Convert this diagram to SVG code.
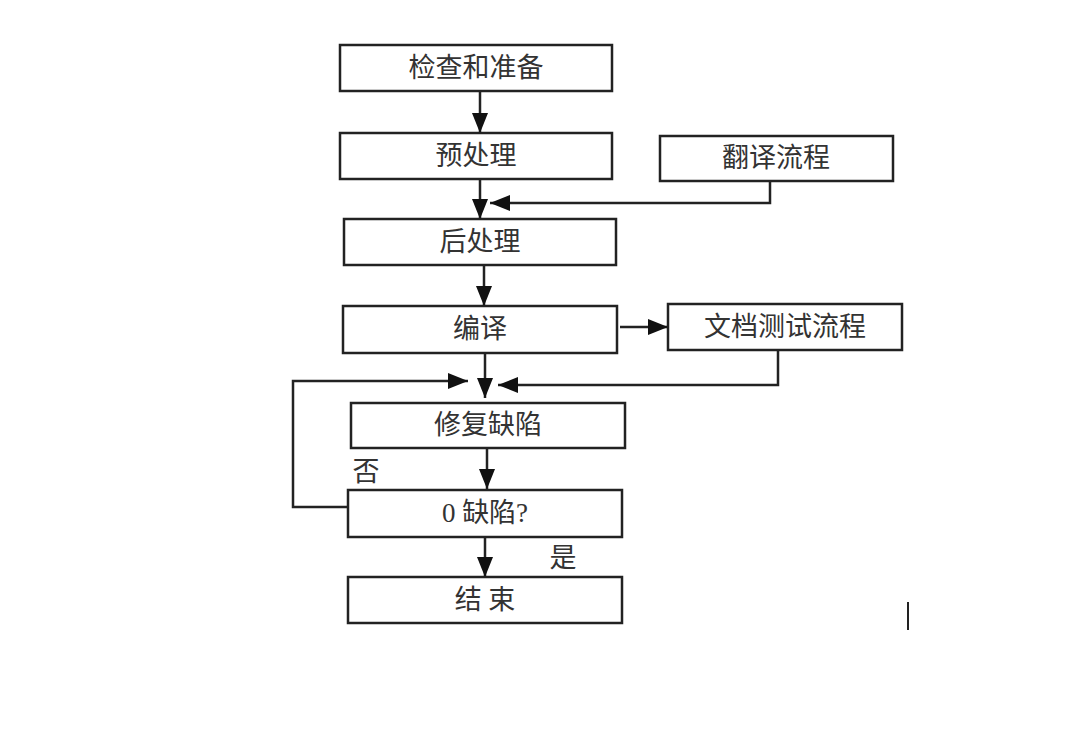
<svg xmlns="http://www.w3.org/2000/svg" width="1068" height="756" viewBox="0 0 1068 756">
<style>
.b{fill:#fff;stroke:#222;stroke-width:2.5}
.t{font-family:"Liberation Serif","Noto Sans CJK SC",serif;font-size:27px;fill:#333;text-anchor:middle;dominant-baseline:central}
.c{fill:none;stroke:#222;stroke-width:2.5}
</style>
<defs><marker id="a" markerWidth="10" markerHeight="10" refX="9" refY="5" orient="auto" markerUnits="userSpaceOnUse"><path d="M0,0L10,5L0,10z" fill="#111" transform="scale(1)"/></marker>
<marker id="h" viewBox="0 0 20 16" markerWidth="20" markerHeight="16" refX="20" refY="8" orient="auto" markerUnits="userSpaceOnUse"><path d="M0,0L20,8L0,16z" fill="#111"/></marker></defs>
<rect width="1068" height="756" fill="#fff"/>
<g id="n1"><rect class="b" x="340" y="45" width="272" height="46"/><text class="t" x="476" y="68">检查和准备</text></g>
<g id="n2"><rect class="b" x="340" y="133" width="272" height="46"/><text class="t" x="476" y="156">预处理</text></g>
<g id="n3"><rect class="b" x="660" y="136" width="233" height="45"/><text class="t" x="776" y="158">翻译流程</text></g>
<g id="n4"><rect class="b" x="344" y="219" width="272" height="46"/><text class="t" x="480" y="242">后处理</text></g>
<g id="n5"><rect class="b" x="343" y="306" width="274" height="47"/><text class="t" x="480" y="329">编译</text></g>
<g id="n6"><rect class="b" x="668" y="304" width="234" height="46"/><text class="t" x="785" y="327">文档测试流程</text></g>
<g id="n7"><rect class="b" x="351" y="403" width="274" height="45"/><text class="t" x="488" y="425">修复缺陷</text></g>
<g id="n8"><rect class="b" x="348" y="490" width="274" height="47"/><text class="t" x="485" y="513">0 缺陷?</text></g>
<g id="n9"><rect class="b" x="348" y="577" width="274" height="46"/><text class="t" x="485" y="600">结 束</text></g>
<g id="l"><text class="t" x="366" y="472">否</text><text class="t" x="563" y="558">是</text></g>
<g id="connectors">
<path class="c" d="M480,91V133" marker-end="url(#h)"/>
<path class="c" d="M480,179V219" marker-end="url(#h)"/>
<path class="c" d="M770,181V203H490" marker-end="url(#h)"/>
<path class="c" d="M484,265V306" marker-end="url(#h)"/>
<path class="c" d="M620,327H668" marker-end="url(#h)"/>
<path class="c" d="M485,353V398" marker-end="url(#h)"/>
<path class="c" d="M348,507H293V381H468" marker-end="url(#h)"/>
<path class="c" d="M778,350V385H498" marker-end="url(#h)"/>
<path class="c" d="M487,448V489" marker-end="url(#h)"/>
<path class="c" d="M485,537V577" marker-end="url(#h)"/>
</g>
<path d="M908,602V630" stroke="#222" stroke-width="2"/>
</svg>
